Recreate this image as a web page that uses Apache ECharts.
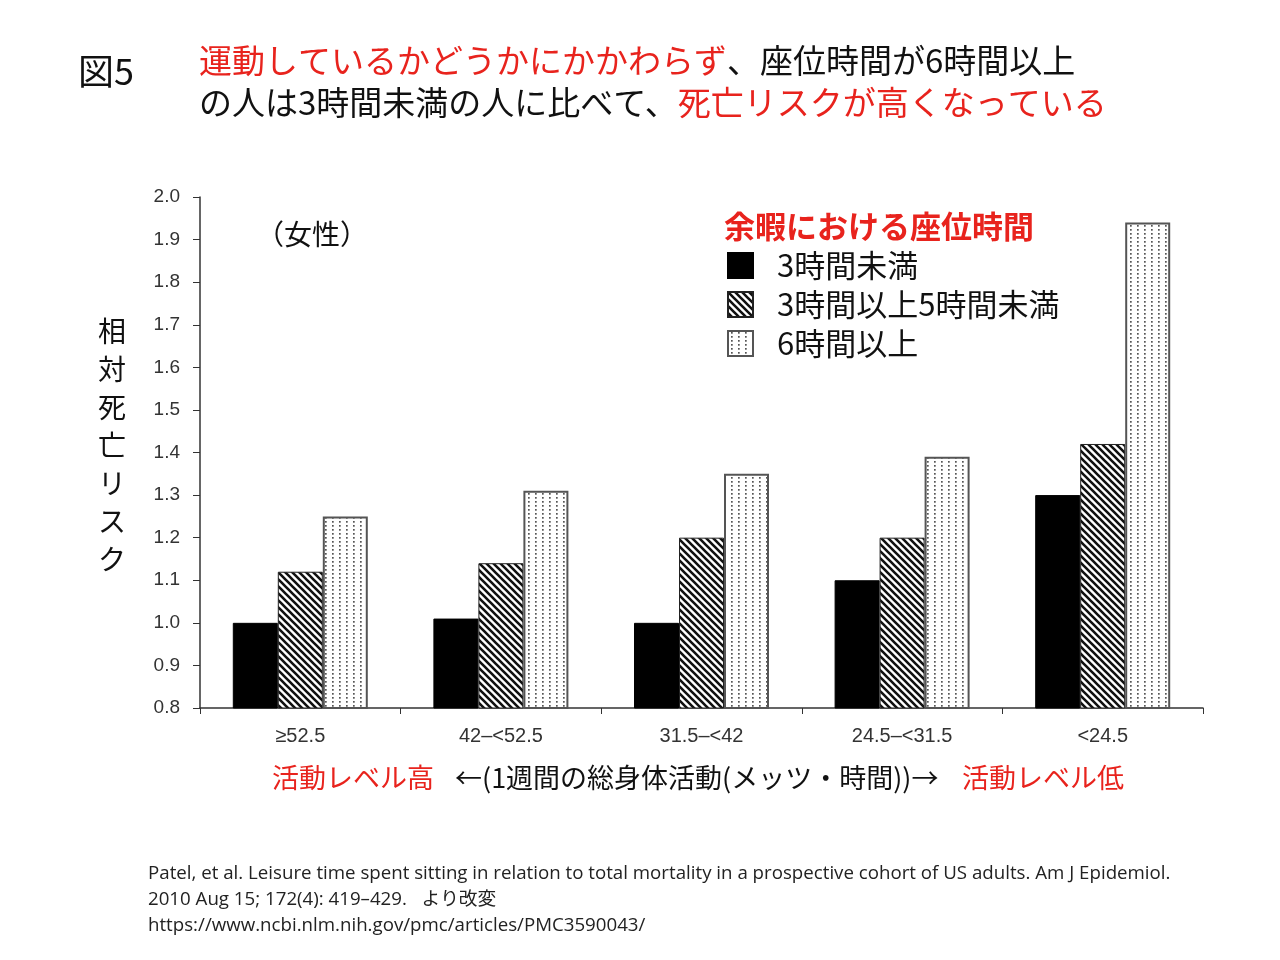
<!DOCTYPE html>
<html>
<head>
<meta charset="utf-8">
<script src="https://cdn.jsdelivr.net/npm/echarts@6/dist/echarts.min.js"></script>
<style>
  html, body { margin: 0; padding: 0; background: #fff; }
  #main { width: 1280px; height: 960px; }
</style>
</head>
<body>
<div id="main"></div>
<script>
// data
var categories = ["≥52.5", "42–<52.5", "31.5–<42", "24.5–<31.5", "<24.5"];
var under3 = [1.00, 1.01, 1.00, 1.10, 1.30];
var from3to5 = [1.12, 1.14, 1.20, 1.20, 1.42];
var over6 = [1.25, 1.31, 1.35, 1.39, 1.94];
var seriesNames = ["3時間未満", "3時間以上5時間未満", "6時間以上"];

var JP = '"Noto Sans CJK JP", "Noto Sans", sans-serif';

// hatch fill: diagonal stripes running top-left to bottom-right
function makeHatch() {
    var c = document.createElement("canvas");
    c.width = 7;
    c.height = 7;
    var ctx = c.getContext("2d");
    ctx.fillStyle = "#fff";
    ctx.fillRect(0, 0, 7, 7);
    ctx.strokeStyle = "#111";
    ctx.lineWidth = 2.6;
    ctx.beginPath();
    ctx.moveTo(-7, -7); ctx.lineTo(14, 14);
    ctx.moveTo(-7, 0); ctx.lineTo(7, 14);
    ctx.moveTo(0, -7); ctx.lineTo(14, 7);
    ctx.stroke();
    return c;
}

// dotted fill
function makeDots() {
    var c = document.createElement("canvas");
    c.width = 7;
    c.height = 4;
    var ctx = c.getContext("2d");
    ctx.fillStyle = "#fff";
    ctx.fillRect(0, 0, 7, 4);
    ctx.fillStyle = "#555";
    ctx.fillRect(3, 1, 1.7, 1.7);
    return c;
}

var myChart = echarts.init(document.getElementById("main"), null, { renderer: "canvas" });

var option = {
    backgroundColor: "#fff",
    animation: false,
    grid: {
        left: 200,
        right: 77,
        top: 197,
        bottom: 252,
    },
    legend: {
        orient: "vertical",
        left: 727,
        top: 250,
        padding: 0,
        itemWidth: 25,
        itemHeight: 25,
        itemGap: 8,
        icon: "rect",
        textStyle: {
            fontFamily: JP,
            fontSize: 31,
            color: "#111",
            padding: [0, 0, 0, 19],
        },
        data: seriesNames,
    },
    xAxis: {
        type: "category",
        data: categories,
        axisLine: { lineStyle: { color: "#333", width: 1.5 } },
        axisTick: { show: true, length: 6, lineStyle: { color: "#333" } },
        axisLabel: {
            fontFamily: "Liberation Sans, Arial, sans-serif",
            fontSize: 20,
            color: "#333",
            margin: 18,
        },
    },
    yAxis: {
        type: "value",
        min: 0.8,
        max: 2.0,
        interval: 0.1,
        splitLine: { show: false },
        axisLine: { show: true, lineStyle: { color: "#333", width: 1.5 } },
        axisTick: { show: true, length: 7, lineStyle: { color: "#333" } },
        axisLabel: {
            fontFamily: "Liberation Sans, Arial, sans-serif",
            fontSize: 19,
            color: "#333",
            margin: 20,
            formatter: function (v) { return v.toFixed(1); },
        },
    },
    series: [
        {
            name: seriesNames[0],
            type: "bar",
            data: under3,
            barWidth: 45,
            barGap: "0%",
            itemStyle: { color: "#000", borderColor: "#000", borderWidth: 1 },
        },
        {
            name: seriesNames[1],
            type: "bar",
            data: from3to5,
            barWidth: 45,
            barGap: "0%",
            itemStyle: {
                color: { image: makeHatch(), repeat: "repeat" },
                borderColor: "#222",
                borderWidth: 1,
            },
        },
        {
            name: seriesNames[2],
            type: "bar",
            data: over6,
            barWidth: 45,
            barGap: "0%",
            itemStyle: {
                color: { image: makeDots(), repeat: "repeat" },
                borderColor: "#555",
                borderWidth: 2,
            },
        },
    ],
    graphic: [
        {
            type: "text",
            left: 78,
            top: 53,
            style: { text: "図5", fontFamily: JP, fontSize: 36, fill: "#111" },
        },
        {
            type: "text",
            left: 199,
            top: 39,
            style: {
                text: "{r|運動しているかどうかにかかわらず}{k|、座位時間が6時間以上}\n{k|の人は3時間未満の人に比べて、}{r|死亡リスクが高くなっている}",
                fontFamily: JP,
                fontSize: 33,
                lineHeight: 42,
                rich: {
                    r: { fill: "#e8231d", fontFamily: JP, fontSize: 33, lineHeight: 42 },
                    k: { fill: "#111", fontFamily: JP, fontSize: 33, lineHeight: 42 },
                },
            },
        },
        {
            type: "text",
            left: 256,
            top: 220,
            style: { text: "（女性）", fontFamily: JP, fontSize: 28, fill: "#111" },
        },
        {
            type: "text",
            left: 724,
            top: 211,
            style: { text: "余暇における座位時間", fontFamily: JP, fontSize: 31, fontWeight: "bold", fill: "#e8231d" },
        },
        {
            type: "text",
            left: 98,
            top: 312,
            style: {
                text: "相\n対\n死\n亡\nリ\nス\nク",
                fontFamily: JP,
                fontSize: 28,
                lineHeight: 38,
                fill: "#111",
                align: "center",
            },
        },
        {
            type: "text",
            left: 272,
            top: 764,
            style: { text: "活動レベル高", fontFamily: JP, fontSize: 27, fill: "#e8231d" },
        },
        {
            type: "text",
            left: 455,
            top: 764,
            style: { text: "←(1週間の総身体活動(メッツ・時間))→", fontFamily: JP, fontSize: 27, fill: "#111" },
        },
        {
            type: "text",
            left: 962,
            top: 764,
            style: { text: "活動レベル低", fontFamily: JP, fontSize: 27, fill: "#e8231d" },
        },
        {
            type: "text",
            left: 148,
            top: 861,
            style: {
                text: "Patel, et al. Leisure time spent sitting in relation to total mortality in a prospective cohort of US adults. Am J Epidemiol.\n2010 Aug 15; 172(4): 419–429.   より改変\nhttps://www.ncbi.nlm.nih.gov/pmc/articles/PMC3590043/",
                fontFamily: '"Open Sans", "Noto Sans CJK JP", sans-serif',
                fontSize: 18.7,
                lineHeight: 26,
                fill: "#222",
            },
        },
    ],
};
myChart.setOption(option);
</script>
</body>
</html>
